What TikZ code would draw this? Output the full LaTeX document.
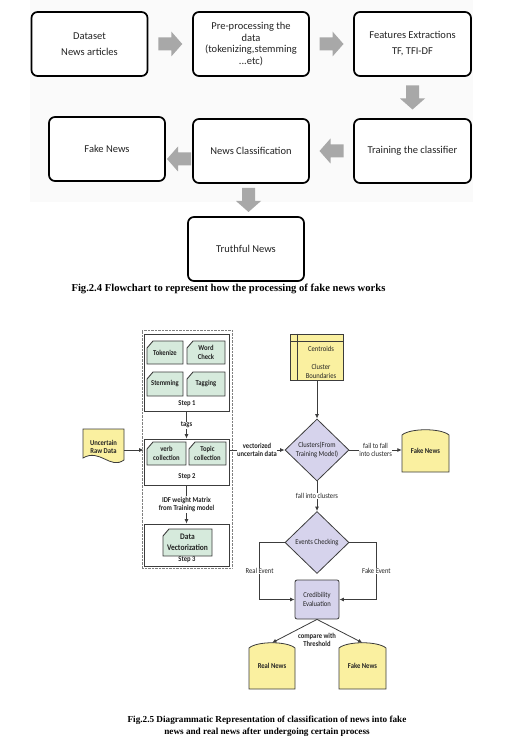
\documentclass[tikz,border=0pt]{standalone}
\usepackage{fontspec}
\setmainfont{Carlito}
\newfontfamily\capfont{Liberation Serif}
\newfontfamily\condfont[FakeStretch=0.88]{Carlito}
\usetikzlibrary{shapes.geometric,arrows.meta,calc}
\definecolor{arrowgray}{RGB}{168,168,168}
\definecolor{bggray}{RGB}{250,250,250}
\definecolor{linegray}{RGB}{60,60,60}
\definecolor{yel}{RGB}{250,240,160}
\definecolor{lav}{RGB}{214,211,236}
\definecolor{grn}{RGB}{214,234,220}
\definecolor{txtdark}{RGB}{35,35,35}
\newcommand\greencard[7][]{%
  \filldraw[cardsty] ({#3-#5/2+6},{#4-#6/2}) -- ({#3+#5/2},{#4-#6/2}) -- ({#3+#5/2},{#4+#6/2}) -- ({#3-#5/2},{#4+#6/2}) -- ({#3-#5/2},{#4-#6/2+7}) -- cycle;
  \node[bfl, minimum width=#5pt, minimum height=#6pt, #1] (#2) at (#3,#4) {#7};}
\newcommand\archdoc[6]{%
  \filldraw[docsty] ({#2-#4/2},#5) -- ({#2-#4/2},{#3+5}) .. controls ({#2-#4/2+8},{#3-2}) and ({#2+#4/2-8},{#3-2}) .. ({#2+#4/2},{#3+5}) -- ({#2+#4/2},#5) -- cycle;
  \node[bfl, minimum width=#4pt, minimum height={#5pt-#3pt}] (#1) at (#2,{(#3+#5)/2}) {#6};}
\begin{document}
\begin{tikzpicture}[x=1pt,y=-1pt,
  topbox/.style={draw=black, line width=1.7pt, rounded corners=6pt, fill=white, minimum width=116pt, minimum height=64pt, align=center, inner sep=2pt, text=txtdark, font=\fontsize{10.5}{11.5}\selectfont},
  captxt/.style={font=\capfont\bfseries\fontsize{9.2}{12}\selectfont, align=center, inner sep=0pt},
  stepbox/.style={draw=linegray, line width=0.9pt, minimum width=85pt},
  bfl/.style={font=\condfont\bfseries\fontsize{7.5}{8.5}\selectfont, text=txtdark, align=center, inner sep=0.5pt},
  rgl/.style={font=\condfont\fontsize{7.5}{8.5}\selectfont, text=txtdark, align=center, inner sep=0.5pt},
  conn/.style={draw=linegray, line width=0.8pt, -{Latex[length=4.5pt,width=4pt]}},
  cardsty/.style={fill=grn, draw=linegray, line width=0.9pt},
  docsty/.style={fill=yel, draw=linegray, line width=0.8pt},
  diam/.style={diamond, fill=lav, draw=linegray, line width=0.8pt, inner sep=0pt, minimum width=64pt, minimum height=62pt, rgl},
  barrow/.pic={\fill[arrowgray] (-12,-6.5) -- (1,-6.5) -- (1,-12.5) -- (12,0) -- (1,12.5) -- (1,6.5) -- (-12,6.5) -- cycle;}
]
\useasboundingbox (0,0) rectangle (507,743);
% ---------- top flowchart ----------
\fill[bggray] (30,0) rectangle (473,202);
\node[topbox] (ds) at (89.5,44) {Dataset\\[4.5pt]News articles};
\node[topbox] (pp) at (251,44) {Pre-processing the\\data\\(tokenizing,stemming\\...etc)};
\node[topbox, minimum width=117pt] (fe) at (412.5,44) {Features Extractions\\[4.5pt]TF, TFI-DF};
\node[topbox] (fn) at (107,149) {Fake News};
\node[topbox] (nc) at (251,151) {News Classification};
\node[topbox, minimum width=117pt] (tc) at (412.5,151) {Training the classifier};
\node[topbox] (tn) at (246,249) {Truthful News};
\pic at ($(ds.east)!0.5!(pp.west)$) {barrow};
\pic at ($(pp.east)!0.5!(fe.west)$) {barrow};
\pic[rotate=-90] at ($(fe.south)!0.5!(tc.north)$) {barrow};
\pic[rotate=180] at ($(tc.west)!0.5!(nc.east)$) {barrow};
\pic[rotate=180] at ($($(nc.west)!0.5!(fn.east)$)+(0,9)$) {barrow};
\pic[rotate=-90] at ($(nc.south)!0.5!(tn.north)$) {barrow};
\node[captxt, font=\capfont\bfseries\fontsize{10.6}{12}\selectfont] (cap1) at (228.5,289) {Fig.2.4 Flowchart to represent how the processing of fake news works};
% ---------- bottom diagram ----------
\node[draw=gray, dash pattern=on 0.7pt off 0.7pt, line width=0.8pt, minimum width=90pt, minimum height=238pt] (outer) at (187,449) {};
\node[stepbox, minimum height=77pt] (s1) at (186.5,372.5) {};
\node[stepbox, minimum height=46pt] (s2) at (186.5,462) {};
\node[stepbox, minimum height=42pt] (s3) at (186.5,545) {};
\node[bfl] (s1l) at (187,404) {Step 1};
\node[bfl] (s2l) at (187,477) {Step 2};
\node[bfl] (s3l) at (187,560) {Step 3};
\greencard{tok}{165}{352.5}{36}{23}{Tokenize}
\greencard{wc}{206}{352.5}{38}{23}{Word\\Check}
\greencard{stem}{165}{384}{36}{24}{Stemming}
\greencard{tag}{206}{384}{38}{24}{Tagging}
\greencard{verb}{166.5}{453.5}{39}{23}{verb\\collection}
\greencard{topic}{207.5}{453.5}{37}{23}{Topic\\collection}
\greencard[font=\condfont\bfseries\fontsize{8.5}{10.5}\selectfont]{dv}{187.5}{542.5}{49}{27}{Data\\Vectorization}
\draw[conn] (s1.south) -- node[bfl, fill=white]{tags} (s2.north);
\draw[conn] (s2.south) -- node[bfl, fill=white]{IDF weight Matrix\\from Training model} (s3.north);
\coordinate (vline) at (0,450);
% uncertain raw data
\filldraw[docsty] (83,429) -- (124,429) -- (124,460) .. controls (110,470) and (100,448) .. (83,458) -- cycle;
\node[bfl, minimum width=41pt] (raw) at (103.5,447) {Uncertain\\Raw Data};
\draw[conn] (raw.east |- vline) -- (s2.west |- vline);
% clusters
\node[draw=linegray, fill=yel, line width=0.8pt, minimum width=53pt, minimum height=46pt] (cent) at (317,357) {};
\draw[linegray, line width=0.8pt] ([xshift=7pt]cent.north west) -- ([xshift=7pt]cent.south west);
\draw[linegray, line width=0.8pt] ([yshift=-8pt]cent.north west) -- ([yshift=-8pt]cent.north east);
\node[rgl] (centtxt) at (321,362) {Centroids\\[10pt]Cluster\\Boundaries};
\node[diam] (c1) at (317,450) {Clusters(From\\Training Model)};
\draw[conn] (cent.south) -- (c1.north);
\draw[conn] (s2.east |- vline) -- node[bfl, fill=white]{vectorized\\uncertain data} (c1.west);
\archdoc{fakeA}{425.5}{430}{47}{472}{Fake News}
\draw[conn] (c1.east) -- node[rgl, fill=white]{fail to fall\\into clusters} (c1.east -| fakeA.west);
\node[diam] (ev) at (317,542.5) {Events Checking};
\draw[conn] (c1.south) -- node[rgl, fill=white]{fall into clusters} (ev.north);
\node[draw=linegray, fill=lav, line width=0.8pt, rounded corners=2pt, minimum width=44pt, minimum height=39pt, rgl] (cred) at (317,599.5) {Credibility\\Evaluation};
\draw[conn] (ev.west) -| node[rgl, fill=white, pos=0.75]{Real Event} ($(cred.west)+(-35,0)$) -- (cred.west);
\draw[conn] (ev.east) -| node[rgl, fill=white, pos=0.75]{Fake Event} ($(cred.east)+(37,0)$) -- (cred.east);
\archdoc{realN}{272}{643}{46}{689}{Real News}
\archdoc{fakeB}{362.5}{643}{47}{689}{Fake News}
\draw[conn] (cred.south) -- (realN.north);
\draw[conn] (cred.south) -- (fakeB.north);
\node[bfl] (cmp) at (317,640) {compare with\\Threshold};
\node[captxt] (cap2) at (267,726) {Fig.2.5 Diagrammatic Representation of classification of news into fake\\news and real news after undergoing certain process};
\end{tikzpicture}
\end{document}
